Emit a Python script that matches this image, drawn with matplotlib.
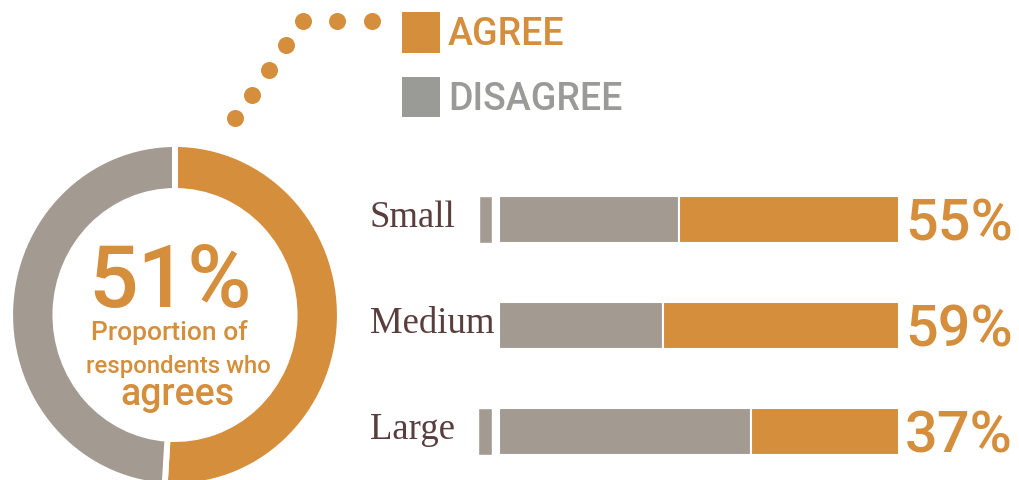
import matplotlib
matplotlib.use("Agg")
import matplotlib.pyplot as plt
from matplotlib.patches import Rectangle

# ---- data ----
overall_agree = 51
categories = ["Small", "Medium", "Large"]
agree = [55, 59, 37]
disagree = [100 - v for v in agree]
other = [3.3, 0, 3.5]          # narrow leading segment shown left of the bar
legend_labels = ["AGREE", "DISAGREE"]

# dotted connector from the donut up to the legend
dot_x = [235, 252, 269, 286, 303, 337, 372]
dot_y = [119, 96, 71, 46, 22, 22, 22]

ORANGE = "#D58E3C"
GRAY = "#A39B92"
LEG_GRAY = "#9A9A96"
LABEL = "#5A3E3E"

W, H = 1020, 481
fig = plt.figure(figsize=(W / 100, H / 100), dpi=100)
fig.patch.set_facecolor("white")

# overlay axes in pixel coordinates (origin top-left)
ax0 = fig.add_axes([0, 0, 1, 1])
ax0.set_xlim(0, W)
ax0.set_ylim(H, 0)
ax0.axis("off")

# ---- donut ----
dl, dr, dt, db = 13, 337, 148, 484
axd = fig.add_axes([dl / W, (H - db) / H, (dr - dl) / W, (db - dt) / H])
axd.pie([overall_agree, 100 - overall_agree], colors=[ORANGE, GRAY],
        startangle=90, counterclock=False, radius=1.018,
        wedgeprops=dict(width=0.28, edgecolor="white", linewidth=4.3))
axd.set_aspect("auto")
axd.set_xlim(-1, 1)
axd.set_ylim(-1, 1)
axd.axis("off")

ax0.text(170, 307, f"{overall_agree}%", color=ORANGE, fontsize=63,
         family="Roboto", weight="medium", ha="center", va="baseline")
ax0.text(169, 340, "Proportion of", color=ORANGE, fontsize=19,
         family="Roboto", weight="medium", ha="center", va="baseline")
ax0.text(178, 373, "respondents who", color=ORANGE, fontsize=17.3,
         family="Roboto", weight="medium", ha="center", va="baseline")
ax0.text(177, 405, "agrees", color=ORANGE, fontsize=27,
         family="Roboto", weight="medium", ha="center", va="baseline")

# ---- dotted connector ----
ax0.scatter(dot_x, dot_y, s=150, color=ORANGE, linewidths=0, zorder=3)

# ---- legend ----
ax0.add_patch(Rectangle((402, 13), 38, 41, color=ORANGE, lw=0))
ax0.add_patch(Rectangle((402, 78), 38, 40, color=LEG_GRAY, lw=0))
ax0.text(448, 45, legend_labels[0], color=ORANGE, fontsize=27,
         family="Roboto", weight="medium", va="baseline")
ax0.text(448, 110, legend_labels[1], color=LEG_GRAY, fontsize=27,
         family="Roboto", weight="medium", va="baseline")

# ---- stacked bars ----
bl, br, btop = 478.5, 899, 167.5
bh = 318
axb = fig.add_axes([bl / W, (H - btop - bh) / H, (br - bl) / W, bh / H])
ypos = list(range(len(categories)))
gap = 1.6
axb.barh(ypos, other, left=[-gap - o for o in other], height=0.45,
         color=GRAY, edgecolor="white", linewidth=1)
axb.barh(ypos, disagree, left=0, height=0.45, color=GRAY,
         edgecolor="white", linewidth=1.5)
axb.barh(ypos, agree, left=disagree, height=0.45, color=ORANGE,
         edgecolor="white", linewidth=1.5)
axb.set_xlim(-5, 100)
axb.set_ylim(len(categories) - 0.5, -0.5)
axb.axis("off")

for i, (cat, val) in enumerate(zip(categories, agree)):
    axb.annotate(cat, xy=(370, i), xycoords=("figure pixels", "data"),
                 xytext=(0, -7 * 0.72), textcoords="offset points",
                 va="baseline", ha="left", fontsize=26.5,
                 family="Liberation Serif", color=LABEL, annotation_clip=False)
    axb.annotate(f"{val}%", xy=(100, i), xycoords="data",
                 xytext=(6 * 0.72, -20 * 0.72), textcoords="offset points",
                 va="baseline", ha="left", fontsize=41.5, family="Roboto",
                 weight="medium", color=ORANGE, annotation_clip=False)

fig.savefig("out.png", dpi=100, facecolor="white")
